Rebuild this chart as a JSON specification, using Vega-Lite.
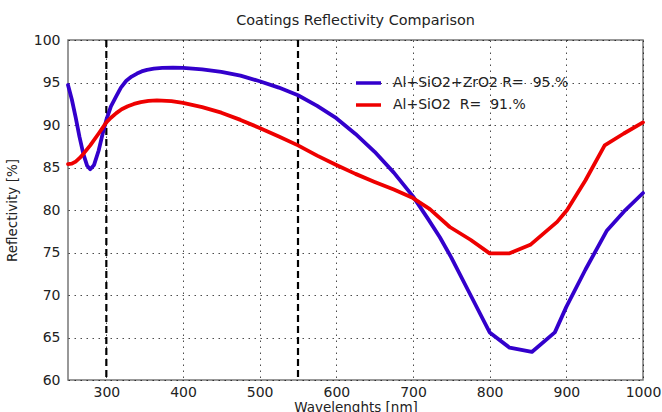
{
  "$schema": "https://vega.github.io/schema/vega-lite/v6.json",
  "autosize": {"type": "none"},
  "width": 575,
  "height": 340,
  "padding": {"left": 68, "top": 40, "right": 19, "bottom": 32},
  "background": "white",
  "config": {
    "font": "DejaVu Sans",
    "view": {"stroke": "#777777", "strokeWidth": 1.5},
    "axis": {"labelFont": "DejaVu Sans", "titleFont": "DejaVu Sans", "labelFontSize": 14, "titleFontSize": 13.5, "titleFontWeight": "normal", "labelColor": "#222", "titleColor": "#222", "domain": false, "ticks": false, "grid": true, "gridColor": "#000", "gridOpacity": 0.7, "gridDash": [1.5, 4.5], "gridWidth": 1, "labelFlush": false, "labelOverlap": false, "labelBound": false}
  },
  "title": {"text": "Coatings Reflectivity Comparison", "fontSize": 14.4, "fontWeight": "normal", "font": "DejaVu Sans", "color": "#222", "offset": 5},
  "datasets": {
    "curves": [
      {"wl": 250, "r": 94.7, "s": "Al+SiO2+ZrO2 R=\u00a0 95.%"},
      {"wl": 255, "r": 93.0, "s": "Al+SiO2+ZrO2 R=\u00a0 95.%"},
      {"wl": 260, "r": 90.9, "s": "Al+SiO2+ZrO2 R=\u00a0 95.%"},
      {"wl": 265, "r": 88.6, "s": "Al+SiO2+ZrO2 R=\u00a0 95.%"},
      {"wl": 270, "r": 86.6, "s": "Al+SiO2+ZrO2 R=\u00a0 95.%"},
      {"wl": 275, "r": 85.2, "s": "Al+SiO2+ZrO2 R=\u00a0 95.%"},
      {"wl": 279, "r": 84.8, "s": "Al+SiO2+ZrO2 R=\u00a0 95.%"},
      {"wl": 284, "r": 85.3, "s": "Al+SiO2+ZrO2 R=\u00a0 95.%"},
      {"wl": 290, "r": 87.0, "s": "Al+SiO2+ZrO2 R=\u00a0 95.%"},
      {"wl": 295, "r": 88.9, "s": "Al+SiO2+ZrO2 R=\u00a0 95.%"},
      {"wl": 300, "r": 90.6, "s": "Al+SiO2+ZrO2 R=\u00a0 95.%"},
      {"wl": 306, "r": 92.2, "s": "Al+SiO2+ZrO2 R=\u00a0 95.%"},
      {"wl": 313, "r": 93.4, "s": "Al+SiO2+ZrO2 R=\u00a0 95.%"},
      {"wl": 319, "r": 94.4, "s": "Al+SiO2+ZrO2 R=\u00a0 95.%"},
      {"wl": 326, "r": 95.2, "s": "Al+SiO2+ZrO2 R=\u00a0 95.%"},
      {"wl": 333, "r": 95.7, "s": "Al+SiO2+ZrO2 R=\u00a0 95.%"},
      {"wl": 340, "r": 96.05, "s": "Al+SiO2+ZrO2 R=\u00a0 95.%"},
      {"wl": 346, "r": 96.3, "s": "Al+SiO2+ZrO2 R=\u00a0 95.%"},
      {"wl": 353, "r": 96.48, "s": "Al+SiO2+ZrO2 R=\u00a0 95.%"},
      {"wl": 362, "r": 96.62, "s": "Al+SiO2+ZrO2 R=\u00a0 95.%"},
      {"wl": 373, "r": 96.72, "s": "Al+SiO2+ZrO2 R=\u00a0 95.%"},
      {"wl": 387, "r": 96.75, "s": "Al+SiO2+ZrO2 R=\u00a0 95.%"},
      {"wl": 400, "r": 96.72, "s": "Al+SiO2+ZrO2 R=\u00a0 95.%"},
      {"wl": 425, "r": 96.55, "s": "Al+SiO2+ZrO2 R=\u00a0 95.%"},
      {"wl": 450, "r": 96.25, "s": "Al+SiO2+ZrO2 R=\u00a0 95.%"},
      {"wl": 475, "r": 95.8, "s": "Al+SiO2+ZrO2 R=\u00a0 95.%"},
      {"wl": 500, "r": 95.15, "s": "Al+SiO2+ZrO2 R=\u00a0 95.%"},
      {"wl": 525, "r": 94.4, "s": "Al+SiO2+ZrO2 R=\u00a0 95.%"},
      {"wl": 550, "r": 93.5, "s": "Al+SiO2+ZrO2 R=\u00a0 95.%"},
      {"wl": 575, "r": 92.25, "s": "Al+SiO2+ZrO2 R=\u00a0 95.%"},
      {"wl": 600, "r": 90.8, "s": "Al+SiO2+ZrO2 R=\u00a0 95.%"},
      {"wl": 625, "r": 88.95, "s": "Al+SiO2+ZrO2 R=\u00a0 95.%"},
      {"wl": 650, "r": 86.85, "s": "Al+SiO2+ZrO2 R=\u00a0 95.%"},
      {"wl": 675, "r": 84.4, "s": "Al+SiO2+ZrO2 R=\u00a0 95.%"},
      {"wl": 700, "r": 81.6, "s": "Al+SiO2+ZrO2 R=\u00a0 95.%"},
      {"wl": 720, "r": 78.9, "s": "Al+SiO2+ZrO2 R=\u00a0 95.%"},
      {"wl": 735, "r": 76.8, "s": "Al+SiO2+ZrO2 R=\u00a0 95.%"},
      {"wl": 750, "r": 74.4, "s": "Al+SiO2+ZrO2 R=\u00a0 95.%"},
      {"wl": 775, "r": 70.0, "s": "Al+SiO2+ZrO2 R=\u00a0 95.%"},
      {"wl": 800, "r": 65.6, "s": "Al+SiO2+ZrO2 R=\u00a0 95.%"},
      {"wl": 826, "r": 63.8, "s": "Al+SiO2+ZrO2 R=\u00a0 95.%"},
      {"wl": 855, "r": 63.3, "s": "Al+SiO2+ZrO2 R=\u00a0 95.%"},
      {"wl": 885, "r": 65.6, "s": "Al+SiO2+ZrO2 R=\u00a0 95.%"},
      {"wl": 900, "r": 68.6, "s": "Al+SiO2+ZrO2 R=\u00a0 95.%"},
      {"wl": 925, "r": 73.0, "s": "Al+SiO2+ZrO2 R=\u00a0 95.%"},
      {"wl": 953, "r": 77.6, "s": "Al+SiO2+ZrO2 R=\u00a0 95.%"},
      {"wl": 975, "r": 79.8, "s": "Al+SiO2+ZrO2 R=\u00a0 95.%"},
      {"wl": 1000, "r": 82.0, "s": "Al+SiO2+ZrO2 R=\u00a0 95.%"},
      {"wl": 250, "r": 85.4, "s": "Al+SiO2\u00a0 R=\u00a0 91.%"},
      {"wl": 255, "r": 85.45, "s": "Al+SiO2\u00a0 R=\u00a0 91.%"},
      {"wl": 260, "r": 85.7, "s": "Al+SiO2\u00a0 R=\u00a0 91.%"},
      {"wl": 265, "r": 86.1, "s": "Al+SiO2\u00a0 R=\u00a0 91.%"},
      {"wl": 270, "r": 86.6, "s": "Al+SiO2\u00a0 R=\u00a0 91.%"},
      {"wl": 279, "r": 87.6, "s": "Al+SiO2\u00a0 R=\u00a0 91.%"},
      {"wl": 290, "r": 89.0, "s": "Al+SiO2\u00a0 R=\u00a0 91.%"},
      {"wl": 300, "r": 90.3, "s": "Al+SiO2\u00a0 R=\u00a0 91.%"},
      {"wl": 306, "r": 90.85, "s": "Al+SiO2\u00a0 R=\u00a0 91.%"},
      {"wl": 313, "r": 91.4, "s": "Al+SiO2\u00a0 R=\u00a0 91.%"},
      {"wl": 320, "r": 91.85, "s": "Al+SiO2\u00a0 R=\u00a0 91.%"},
      {"wl": 328, "r": 92.2, "s": "Al+SiO2\u00a0 R=\u00a0 91.%"},
      {"wl": 336, "r": 92.48, "s": "Al+SiO2\u00a0 R=\u00a0 91.%"},
      {"wl": 345, "r": 92.7, "s": "Al+SiO2\u00a0 R=\u00a0 91.%"},
      {"wl": 355, "r": 92.85, "s": "Al+SiO2\u00a0 R=\u00a0 91.%"},
      {"wl": 366, "r": 92.9, "s": "Al+SiO2\u00a0 R=\u00a0 91.%"},
      {"wl": 385, "r": 92.8, "s": "Al+SiO2\u00a0 R=\u00a0 91.%"},
      {"wl": 400, "r": 92.6, "s": "Al+SiO2\u00a0 R=\u00a0 91.%"},
      {"wl": 425, "r": 92.1, "s": "Al+SiO2\u00a0 R=\u00a0 91.%"},
      {"wl": 450, "r": 91.45, "s": "Al+SiO2\u00a0 R=\u00a0 91.%"},
      {"wl": 475, "r": 90.6, "s": "Al+SiO2\u00a0 R=\u00a0 91.%"},
      {"wl": 500, "r": 89.65, "s": "Al+SiO2\u00a0 R=\u00a0 91.%"},
      {"wl": 525, "r": 88.65, "s": "Al+SiO2\u00a0 R=\u00a0 91.%"},
      {"wl": 550, "r": 87.6, "s": "Al+SiO2\u00a0 R=\u00a0 91.%"},
      {"wl": 575, "r": 86.4, "s": "Al+SiO2\u00a0 R=\u00a0 91.%"},
      {"wl": 600, "r": 85.3, "s": "Al+SiO2\u00a0 R=\u00a0 91.%"},
      {"wl": 625, "r": 84.25, "s": "Al+SiO2\u00a0 R=\u00a0 91.%"},
      {"wl": 650, "r": 83.3, "s": "Al+SiO2\u00a0 R=\u00a0 91.%"},
      {"wl": 675, "r": 82.4, "s": "Al+SiO2\u00a0 R=\u00a0 91.%"},
      {"wl": 700, "r": 81.4, "s": "Al+SiO2\u00a0 R=\u00a0 91.%"},
      {"wl": 722, "r": 80.1, "s": "Al+SiO2\u00a0 R=\u00a0 91.%"},
      {"wl": 748, "r": 78.0, "s": "Al+SiO2\u00a0 R=\u00a0 91.%"},
      {"wl": 775, "r": 76.5, "s": "Al+SiO2\u00a0 R=\u00a0 91.%"},
      {"wl": 800, "r": 74.9, "s": "Al+SiO2\u00a0 R=\u00a0 91.%"},
      {"wl": 826, "r": 74.9, "s": "Al+SiO2\u00a0 R=\u00a0 91.%"},
      {"wl": 853, "r": 75.9, "s": "Al+SiO2\u00a0 R=\u00a0 91.%"},
      {"wl": 888, "r": 78.6, "s": "Al+SiO2\u00a0 R=\u00a0 91.%"},
      {"wl": 901, "r": 80.0, "s": "Al+SiO2\u00a0 R=\u00a0 91.%"},
      {"wl": 925, "r": 83.5, "s": "Al+SiO2\u00a0 R=\u00a0 91.%"},
      {"wl": 950, "r": 87.6, "s": "Al+SiO2\u00a0 R=\u00a0 91.%"},
      {"wl": 975, "r": 89.0, "s": "Al+SiO2\u00a0 R=\u00a0 91.%"},
      {"wl": 1000, "r": 90.3, "s": "Al+SiO2\u00a0 R=\u00a0 91.%"}
    ],
    "marks": [{"wl": 300}, {"wl": 550}]
  },
  "layer": [
    {
      "data": {"name": "marks"},
      "mark": {"type": "rule", "color": "#000", "strokeWidth": 2.2, "strokeDash": [7, 4]},
      "encoding": {
        "x": {"field": "wl", "type": "quantitative", "scale": {"domain": [250, 1000], "nice": false, "zero": false}}
      }
    },
    {
      "data": {"name": "curves"},
      "mark": {"type": "line", "strokeWidth": 3.8, "strokeCap": "round", "strokeJoin": "round"},
      "encoding": {
        "x": {"field": "wl", "type": "quantitative", "title": "Wavelenghts [nm]", "scale": {"domain": [250, 1000], "nice": false, "zero": false}, "axis": {"values": [300, 400, 500, 600, 700, 800, 900, 1000], "format": "d", "labelPadding": 5, "titlePadding": 1}},
        "y": {"field": "r", "type": "quantitative", "title": "Reflectivity [%]", "scale": {"domain": [60, 100], "nice": false, "zero": false}, "axis": {"values": [60, 65, 70, 75, 80, 85, 90, 95, 100], "labelPadding": 8, "titlePadding": 14}},
        "color": {"field": "s", "type": "nominal", "sort": null, "scale": {"domain": ["Al+SiO2+ZrO2 R=\u00a0 95.%", "Al+SiO2\u00a0 R=\u00a0 91.%"], "range": ["#3300cc", "#ee0000"]}, "legend": {"title": null, "orient": "none", "legendX": 286, "legendY": 32, "symbolType": "stroke", "symbolSize": 625, "symbolStrokeWidth": 3.5, "labelFontSize": 14, "labelFont": "DejaVu Sans", "labelColor": "#222", "labelLimit": 0, "rowPadding": 0, "labelOffset": 10, "clipHeight": 22}},
        "order": {"field": "wl", "type": "quantitative"}
      }
    }
  ]
}
